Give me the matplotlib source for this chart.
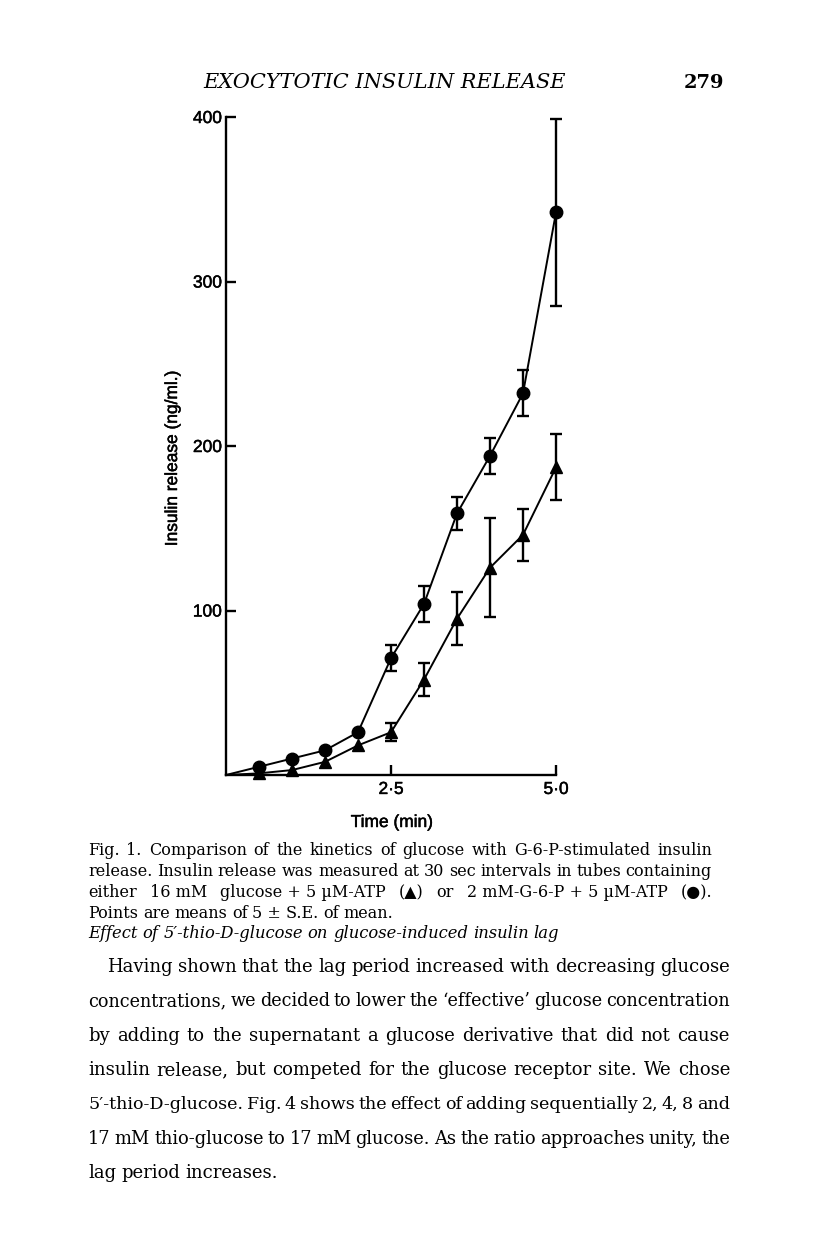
"""
Fig. 1 page: kinetics of glucose vs G-6-P stimulated insulin release
"""

import numpy as np
import matplotlib
matplotlib.use('Agg')
import matplotlib.pyplot as plt
import matplotlib.patheffects as pe

# time in min, points every 30 sec
times = [0, 0.5, 1.0, 1.5, 2.0, 2.5, 3.0, 3.5, 4.0, 4.5, 5.0]

# 2 mM-G-6-P + 5 uM-ATP (circles)
g6p_mean = [0, 5, 10, 15, 26, 71, 104, 159, 194, 232, 342]
g6p_se = [0, 0, 0, 0, 0, 8, 11, 10, 11, 14, 57]

# 16 mM glucose + 5 uM-ATP (triangles)
glucose_mean = [0, 1, 3, 8, 18, 26, 58, 95, 126, 146, 187]
glucose_se = [0, 0, 0, 0, 0, 5.5, 10, 16, 30, 16, 20]

y_ticks = [100, 200, 300, 400]
x_ticks = [2.5, 5.0]
x_tick_labels = ['2\u00b75', '5\u00b70']

caption_lines = [
    'Fig. 1. Comparison of the kinetics of glucose with G-6-P-stimulated insulin',
    'release. Insulin release was measured at 30 sec intervals in tubes containing',
    'either 16~mM glucose~+~5~\u00b5M-ATP (\u25b2) or 2~mM-G-6-P~+~5~\u00b5M-ATP (\u25cf).',
    'Points are means of 5~\u00b1~S.E. of mean.',
]
heading = 'Effect of 5\u2032-thio-D-glucose on glucose-induced insulin lag'
body_lines = [
    'Having shown that the lag period increased with decreasing glucose',
    'concentrations, we decided to lower the \u2018effective\u2019 glucose concentration',
    'by adding to the supernatant a glucose derivative that did not cause',
    'insulin release, but competed for the glucose receptor site. We chose',
    '5\u2032-thio-D-glucose. Fig. 4 shows the effect of adding sequentially 2, 4, 8 and',
    '17 mM thio-glucose to 17 mM glucose. As the ratio approaches unity, the',
    'lag period increases.',
]

W, H = 816, 1248
SERIF = ['DejaVu Serif', 'DejaVu Sans']
SANS = ['Liberation Sans', 'DejaVu Sans']
INK = [pe.withStroke(linewidth=0.35, foreground='k')]  # chart lettering is a bit heavy

fig = plt.figure(figsize=(W / 100, H / 100), dpi=100)
fig.patch.set_facecolor('white')
renderer = fig.canvas.get_renderer()


def px(x, y):
    """pixel position (top-left origin) -> figure fraction"""
    return x / W, 1 - y / H


def put_line(text, x0, x1, y, size, style='normal', justify=True):
    """Draw one line of text on baseline y, spread between x0 and x1."""
    words = [w.replace('~', ' ') for w in text.split(' ')]
    objs = [fig.text(0, 0, w, fontsize=size, family=SERIF, style=style,
                     va='baseline', ha='left') for w in words]
    widths = [t.get_window_extent(renderer).width for t in objs]
    min_gap = size * 100 / 72 * 0.22
    need = sum(widths) + min_gap * (len(objs) - 1)
    if justify and need > x1 - x0:
        # line too long for this size: shrink it a little
        size = size * (x1 - x0) / need
        for t in objs:
            t.set_fontsize(size)
        widths = [t.get_window_extent(renderer).width for t in objs]
    if justify and len(objs) > 1:
        gap = (x1 - x0 - sum(widths)) / (len(objs) - 1)
    else:
        gap = size * 100 / 72 * 0.3
    x = x0
    for t, w in zip(objs, widths):
        t.set_position(px(x, y))
        x += w + gap


# ---- chart ----
ax = fig.add_axes([226 / W, 1 - 775 / H, 330 / W, 658 / H])
ax.set_xlim(0, 5.0)
ax.set_ylim(0, 400)
for s in ['top', 'right']:
    ax.spines[s].set_visible(False)
for s in ['left', 'bottom']:
    ax.spines[s].set_linewidth(1.7)

t = np.array(times)
for mean, se, mk, ms in [(g6p_mean, g6p_se, 'o', 9), (glucose_mean, glucose_se, '^', 8)]:
    mean = np.array(mean, dtype=float)
    se = np.array(se, dtype=float)
    ax.plot(t, mean, '-', color='k', lw=1.4, marker=mk, ms=ms,
            markevery=list(range(1, len(t))), clip_on=False, zorder=3)
    m = se > 0
    ax.errorbar(t[m], mean[m], yerr=se[m], fmt='none', ecolor='k',
                elinewidth=1.7, capsize=4, capthick=1.7, clip_on=False, zorder=2)

ax.set_yticks(y_ticks)
ax.set_yticklabels([str(v) for v in y_ticks])
ax.set_xticks(x_ticks)
ax.set_xticklabels(x_tick_labels)
ax.tick_params(direction='in', length=7, width=1.7, labelsize=12.5)
ax.tick_params(axis='y', pad=3)
ax.tick_params(axis='x', pad=5)
for lab in ax.get_xticklabels() + ax.get_yticklabels():
    lab.set_family(SANS)
    lab.set_path_effects(INK)

ax.set_ylabel('Insulin release (ng/ml.)', fontsize=12.5, family=SANS, path_effects=INK)
ax.yaxis.set_label_coords(-(226 - 180) / 330, (775 - 458) / 658)
ax.set_xlabel('Time (min)', fontsize=12.5, family=SANS, path_effects=INK)
ax.xaxis.set_label_coords((392 - 226) / 330, -(815 - 775) / 658)

# ---- page text ----
fig.text(*px(385, 88), 'EXOCYTOTIC INSULIN RELEASE', fontsize=15, family=SERIF,
         style='italic', ha='center', va='baseline')
fig.text(*px(724, 88), '279', fontsize=14, family=SERIF, weight='bold',
         ha='right', va='baseline')

cap_base = [855, 876, 897, 918]
for i, line in enumerate(caption_lines):
    put_line(line, 88, 712, cap_base[i], 11.5, justify=(i < 3))

put_line(heading, 88, 556, 938, 11.8, style='italic', justify=False)

body_base = [972, 1006, 1041, 1075, 1109, 1144, 1178]
for i, line in enumerate(body_lines):
    x0 = 107 if i == 0 else 88
    put_line(line, x0, 730, body_base[i], 13, justify=(i < 6))

fig.savefig('out.png', dpi=100, facecolor='white')
